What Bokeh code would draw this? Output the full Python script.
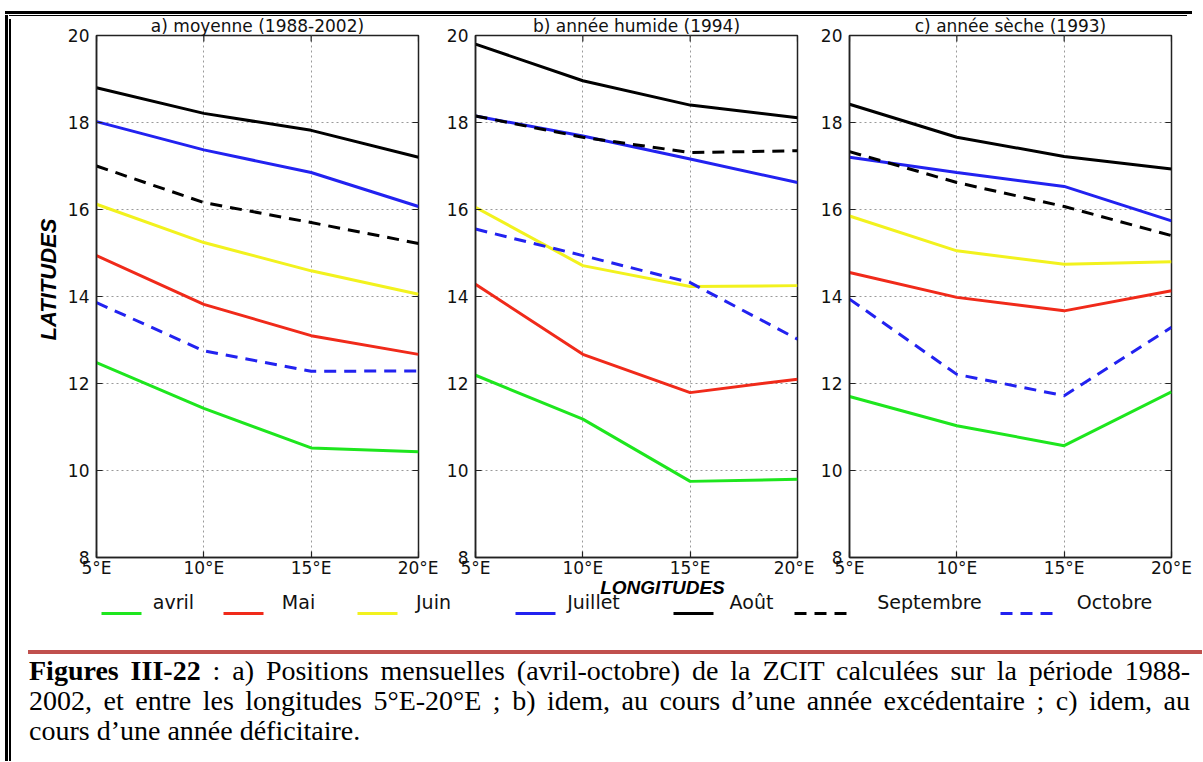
import math
from bokeh.plotting import figure
from bokeh.models import Range1d, FixedTicker, Div
from bokeh.layouts import row, column
from bokeh.embed import file_html
from bokeh.resources import INLINE
from bokeh.core.properties import value

# ---------------- data ----------------
lon = [5, 10, 15, 20]
lon_labels = ["5°E", "10°E", "15°E", "20°E"]
lat_ticks = [8, 10, 12, 14, 16, 18, 20]
months = ["avril", "Mai", "Juin", "Juillet", "Août", "Septembre", "Octobre"]

# a) moyenne (1988-2002)
moy_avril = [12.48, 11.43, 10.52, 10.43]
moy_mai = [14.94, 13.82, 13.10, 12.67]
moy_juin = [16.12, 15.24, 14.59, 14.05]
moy_juillet = [18.02, 17.37, 16.85, 16.07]
moy_aout = [18.80, 18.21, 17.82, 17.20]
moy_sept = [17.00, 16.16, 15.70, 15.22]
moy_oct = [13.86, 12.75, 12.28, 12.29]

# b) année humide (1994)
hum_avril = [12.19, 11.18, 9.75, 9.80]
hum_mai = [14.28, 12.67, 11.79, 12.10]
hum_juin = [16.05, 14.71, 14.23, 14.25]
hum_juillet = [18.15, 17.69, 17.16, 16.62]
hum_aout = [19.80, 18.96, 18.40, 18.11]
hum_sept = [18.15, 17.66, 17.31, 17.35]
hum_oct = [15.55, 14.94, 14.32, 13.02]

# c) année sèche (1993)
sec_avril = [11.70, 11.03, 10.57, 11.81]
sec_mai = [14.55, 13.98, 13.67, 14.13]
sec_juin = [15.85, 15.05, 14.74, 14.80]
sec_juillet = [17.20, 16.85, 16.53, 15.74]
sec_aout = [18.42, 17.66, 17.22, 16.93]
sec_sept = [17.33, 16.62, 16.07, 15.40]
sec_oct = [13.94, 12.21, 11.72, 13.29]

titles = ["a) moyenne (1988-2002)", "b) année humide (1994)", "c) année sèche (1993)"]
panels_data = [
    [moy_avril, moy_mai, moy_juin, moy_juillet, moy_aout, moy_sept, moy_oct],
    [hum_avril, hum_mai, hum_juin, hum_juillet, hum_aout, hum_sept, hum_oct],
    [sec_avril, sec_mai, sec_juin, sec_juillet, sec_aout, sec_sept, sec_oct],
]

# ---------------- styles ----------------
colors = ["#1ee61e", "#f02a1a", "#f2f21e", "#2222f0", "#000000", "#000000", "#2222f0"]
dashes = ["solid", "solid", "solid", "solid", "solid", "12 8", "12 8"]
AX = "#222222"
TICK_FONT = "DejaVu Sans"

# (min_border_left, min_border_right) for each panel; frame 322 x 522
geom = [(34, 20), (37, 17), (35, 26)]
FW, FH = 322, 522
BT, BB = 25, 27          # panels start at page y 8 -> frame 33..555


def make_panel(k):
    bl, br = geom[k]
    p = figure(frame_width=FW, frame_height=FH, x_range=Range1d(5, 20), y_range=Range1d(8, 20),
               output_backend="svg", toolbar_location=None, title=titles[k],
               min_border_left=bl, min_border_right=br, min_border_top=BT, min_border_bottom=BB)
    p.title.align = "center"
    p.title.standoff = 0
    p.title.text_font = TICK_FONT
    p.title.text_font_style = "normal"
    p.title.text_font_size = "17px"
    p.title.text_color = "#111111"
    p.background_fill_color = "white"
    p.border_fill_color = None
    p.outline_line_color = AX
    p.outline_line_width = 1.5

    p.xaxis.ticker = FixedTicker(ticks=lon)
    p.xaxis.major_label_overrides = {t: s for t, s in zip(lon, lon_labels)}
    p.yaxis.ticker = FixedTicker(ticks=lat_ticks)
    for ax in (p.xaxis[0], p.yaxis[0]):
        ax.major_label_text_font = TICK_FONT
        ax.major_label_text_font_size = "17px"
        ax.major_label_text_color = "#111111"
        ax.major_tick_in = 6
        ax.major_tick_out = 0
        ax.minor_tick_line_color = None
        ax.axis_line_color = AX
        ax.axis_line_width = 1.5
        ax.major_tick_line_color = AX
        ax.major_tick_line_width = 1.2
    p.yaxis.major_label_standoff = 7
    p.xaxis.major_label_standoff = 0

    p.xgrid.ticker = FixedTicker(ticks=[10, 15])
    p.ygrid.ticker = FixedTicker(ticks=[10, 12, 14, 16, 18])
    for g in (p.xgrid[0], p.ygrid[0]):
        g.grid_line_color = "#9a9a9a"
        g.grid_line_dash = "2 3"
        g.grid_line_width = 1

    # inward tick marks on the right and top edges (outer halves are clipped by the frame)
    p.scatter(x=[20] * len(lat_ticks), y=lat_ticks, marker="dash", size=12,
              line_color=AX, line_width=1.2)
    p.scatter(x=lon, y=[20] * len(lon), marker="dash", size=12, angle=math.pi / 2,
              line_color=AX, line_width=1.2)

    for series, c, d in zip(panels_data[k], colors, dashes):
        p.line(lon, series, line_color=c, line_width=3, line_dash=d)
    return p


pa = make_panel(0)
pb = make_panel(1)
pc = make_panel(2)

# y-axis label strip: its frame is aligned with the panel frames (page y 33..555)
ylab = figure(frame_width=46, frame_height=FH, x_range=Range1d(14, 60), y_range=Range1d(555, 33),
              output_backend="svg", toolbar_location=None, x_axis_type=None, y_axis_type=None,
              min_border=0, min_border_left=0, min_border_right=0, min_border_top=0, min_border_bottom=0)
ylab.outline_line_color = None
ylab.border_fill_color = None
ylab.grid.visible = False
ylab.text(x=[46], y=[277], text=["LATITUDES"], angle=math.pi / 2, text_align="center",
          text_baseline="middle", text_font=value("Liberation Sans"),
          text_font_style="bold italic", text_font_size=value("22px"), text_color="#000000")

# ---------------- legend strip (page coordinates x 14..1195, y 566..616), transparent ----------------
leg_line_x0 = [99, 221, 355, 513, 671, 792, 998]
leg_line_len = [40, 40, 40, 40, 40, 55, 55]
leg_text_cx = [171, 296, 431, 591, 749, 927, 1112]

lg = figure(frame_width=1181, frame_height=50, x_range=Range1d(14, 1195), y_range=Range1d(616, 566),
            output_backend="svg", toolbar_location=None, x_axis_type=None, y_axis_type=None,
            min_border=0, min_border_left=0, min_border_right=0, min_border_top=0, min_border_bottom=0,
            margin=(-16, 0, 0, 0))
lg.outline_line_color = None
lg.background_fill_color = None
lg.border_fill_color = None
lg.grid.visible = False
lg.text(x=[660], y=[585], text=["LONGITUDES"], text_align="center", text_baseline="alphabetic",
        text_font=value("Liberation Sans"), text_font_style="bold italic",
        text_font_size=value("19px"), text_color="#000000")
for x0, ln, c, d in zip(leg_line_x0, leg_line_len, colors, dashes):
    lg.line([x0, x0 + ln], [611, 611], line_color=c, line_width=3, line_dash=d)
lg.text(x=leg_text_cx, y=[599] * 7, text=months, text_align="center", text_baseline="middle",
        text_font=value(TICK_FONT), text_font_size=value("19px"), text_color="#111111")

# ---------------- caption ----------------
line1 = ("<b>Figures III-22</b> : a) Positions mensuelles (avril-octobre) de la ZCIT "
         "calculées sur la période 1988-")
line2 = ("2002, et entre les longitudes 5°E-20°E ; b) idem, au cours d’une année "
         "excédentaire ; c) idem, au")
line3 = "cours d’une année déficitaire."
cap_html = (
    '<div style="position:relative;width:1181px;height:138px;'
    "font-family:'Liberation Serif','Times New Roman',serif;color:#000;\">"
    '<div style="position:absolute;left:7px;top:27px;width:1174px;height:4px;background:#C0504D;"></div>'
    '<div style="position:absolute;left:8px;top:33px;width:1161px;font-size:28px;line-height:30px;">'
    f'<div style="text-align:justify;text-align-last:justify;">{line1}</div>'
    f'<div style="text-align:justify;text-align-last:justify;">{line2}</div>'
    f'<div style="text-align:left;">{line3}</div>'
    '</div></div>'
)
caption = Div(text=cap_html, width=1181, height=138)

# ---------------- page borders ----------------
top_html = ('<div style="position:relative;width:1187px;height:6px;">'
            '<div style="position:absolute;left:0;top:0;width:1187px;height:2.7px;background:#000;"></div>'
            '<div style="position:absolute;left:4.3px;top:4px;width:1178px;height:1.3px;background:#000;"></div>'
            '</div>')
left_html = ('<div style="position:relative;width:6px;height:746px;">'
             '<div style="position:absolute;left:0;top:0;width:2.7px;height:746px;background:#000;"></div>'
             '<div style="position:absolute;left:4.3px;top:4px;width:1.7px;height:742px;background:#000;"></div>'
             '</div>')
top_border = Div(text=top_html, width=1187, height=6)
left_border = Div(text=left_html, width=6, height=746)

body = row(left_border, column(row(ylab, pa, pb, pc), lg, caption), margin=(-6, 0, 0, 0))
layout = column(top_border, body)

open("out.html", "w").write(file_html(layout, INLINE))
